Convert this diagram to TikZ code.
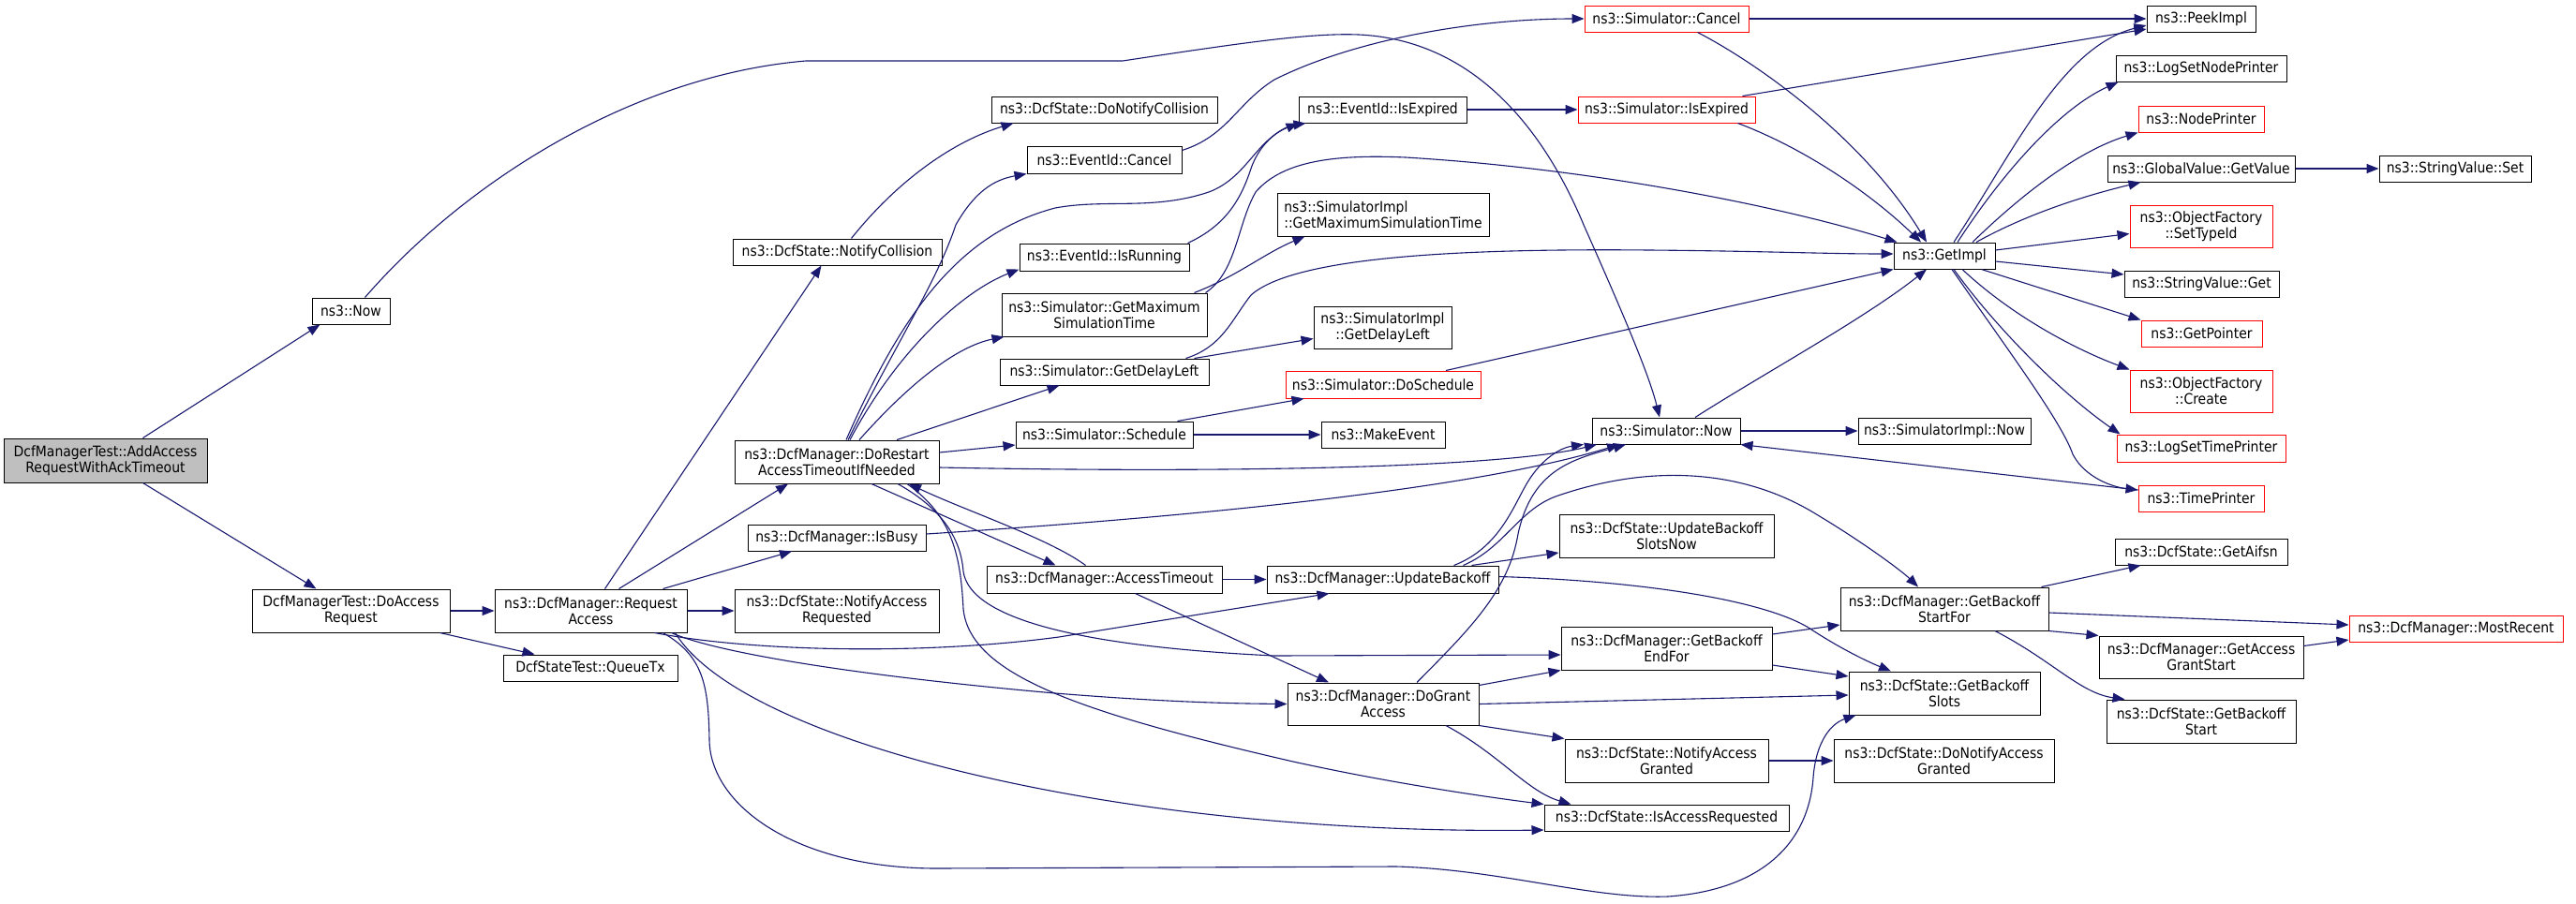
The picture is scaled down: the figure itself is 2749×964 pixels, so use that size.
\documentclass[tikz,border=0pt]{standalone}
\usepackage{fontspec}
\setmainfont{DejaVuSansCondensed}[Extension=.ttf]
\usepackage{tikz}
\usetikzlibrary{arrows.meta}
\definecolor{callblue}{RGB}{25,25,112}
\definecolor{rootgray}{RGB}{191,191,191}
\definecolor{cutred}{RGB}{255,0,0}
\tikzset{
  fn/.style={draw=black, fill=white, line width=1pt, inner sep=0pt, align=center, font=\fontsize{15.5}{17}\selectfont},
  fnred/.style={fn, draw=cutred},
  fnroot/.style={fn, fill=rootgray},
  call/.style={draw=callblue, line width=1.1pt, -{Triangle[length=13pt,width=10pt]}}
}
% box from its corners: [style]{name}{x1}{y1}{x2}{y2}{text}
\newcommand{\fnbox}[7][fn]{\node[#1, minimum width={(#5)-(#3)}, minimum height={(#6)-(#4)}] (#2) at ({((#3)+(#5))/2},{((#4)+(#6))/2}) {#7};}
\begin{document}
\begin{tikzpicture}[x=1pt,y=-1pt]
\path[fill=white] (0,0) rectangle (2749,964);
\useasboundingbox (0,0) rectangle (2749,964);
\fnbox[fnroot]{add}{4}{468}{221}{515}{DcfManagerTest::AddAccess\\RequestWithAckTimeout}
\fnbox{now}{333}{318}{416}{346}{ns3::Now}
\fnbox{doacc}{269}{629}{480}{675}{DcfManagerTest::DoAccess\\Request}
\fnbox{reqacc}{528}{629}{733}{675}{ns3::DcfManager::Request\\Access}
\fnbox{queue}{537}{699}{723}{727}{DcfStateTest::QueueTx}
\fnbox{notcol}{782}{255}{1005}{283}{ns3::DcfState::NotifyCollision}
\fnbox{dorestart}{784}{470}{1002}{516}{ns3::DcfManager::DoRestart\\AccessTimeoutIfNeeded}
\fnbox{isbusy}{798}{560}{988}{588}{ns3::DcfManager::IsBusy}
\fnbox{notreq}{784}{629}{1002}{675}{ns3::DcfState::NotifyAccess\\Requested}
\fnbox{donotcol}{1058}{103}{1299}{131}{ns3::DcfState::DoNotifyCollision}
\fnbox{evcancel}{1096}{156}{1261}{185}{ns3::EventId::Cancel}
\fnbox{evrun}{1088}{260}{1269}{289}{ns3::EventId::IsRunning}
\fnbox{getmax}{1069}{313}{1288}{359}{ns3::Simulator::GetMaximum\\SimulationTime}
\fnbox{delay}{1067}{383}{1290}{411}{ns3::Simulator::GetDelayLeft}
\fnbox{sched}{1084}{450}{1273}{478}{ns3::Simulator::Schedule}
\fnbox{acctime}{1053}{604}{1304}{633}{ns3::DcfManager::AccessTimeout}
\fnbox{evexp}{1386}{103}{1565}{131}{ns3::EventId::IsExpired}
\fnbox[fn,align=left]{implmax}{1363}{206}{1589}{252}{ns3::SimulatorImpl\\::GetMaximumSimulationTime}
\fnbox{impldelay}{1402}{327}{1549}{372}{ns3::SimulatorImpl\\::GetDelayLeft}
\fnbox[fnred]{dosched}{1372}{396}{1580}{425}{ns3::Simulator::DoSchedule}
\fnbox{mkevent}{1410}{450}{1542}{478}{ns3::MakeEvent}
\fnbox{upback}{1352}{604}{1599}{633}{ns3::DcfManager::UpdateBackoff}
\fnbox{dogrant}{1374}{729}{1578}{774}{ns3::DcfManager::DoGrant\\Access}
\fnbox[fnred]{simcancel}{1691}{6}{1866}{34}{ns3::Simulator::Cancel}
\fnbox[fnred]{simexp}{1684}{103}{1873}{131}{ns3::Simulator::IsExpired}
\fnbox{simnow}{1699}{446}{1857}{474}{ns3::Simulator::Now}
\fnbox{slotsnow}{1664}{549}{1893}{595}{ns3::DcfState::UpdateBackoff\\SlotsNow}
\fnbox{endfor}{1666}{669}{1891}{715}{ns3::DcfManager::GetBackoff\\EndFor}
\fnbox{notgrant}{1670}{789}{1887}{835}{ns3::DcfState::NotifyAccess\\Granted}
\fnbox{isreq}{1648}{859}{1909}{887}{ns3::DcfState::IsAccessRequested}
\fnbox{getimpl}{2021}{259}{2129}{287}{ns3::GetImpl}
\fnbox{implnow}{1983}{446}{2167}{474}{ns3::SimulatorImpl::Now}
\fnbox{startfor}{1964}{627}{2186}{673}{ns3::DcfManager::GetBackoff\\StartFor}
\fnbox{slots}{1973}{717}{2177}{763}{ns3::DcfState::GetBackoff\\Slots}
\fnbox{donotgrant}{1957}{789}{2192}{835}{ns3::DcfState::DoNotifyAccess\\Granted}
\fnbox{peek}{2291}{6}{2407}{34}{ns3::PeekImpl}
\fnbox{lognode}{2258}{59}{2440}{87}{ns3::LogSetNodePrinter}
\fnbox[fnred]{nodepr}{2282}{113}{2416}{141}{ns3::NodePrinter}
\fnbox{getval}{2249}{166}{2449}{194}{ns3::GlobalValue::GetValue}
\fnbox{strset}{2539}{166}{2701}{194}{ns3::StringValue::Set}
\fnbox[fnred]{settype}{2273}{219}{2425}{264}{ns3::ObjectFactory\\::SetTypeId}
\fnbox{strget}{2267}{289}{2432}{317}{ns3::StringValue::Get}
\fnbox[fnred]{getptr}{2285}{342}{2414}{370}{ns3::GetPointer}
\fnbox[fnred]{create}{2273}{395}{2425}{440}{ns3::ObjectFactory\\::Create}
\fnbox[fnred]{logtime}{2259}{464}{2439}{493}{ns3::LogSetTimePrinter}
\fnbox[fnred]{timepr}{2282}{518}{2416}{546}{ns3::TimePrinter}
\fnbox{aifsn}{2257}{575}{2441}{603}{ns3::DcfState::GetAifsn}
\fnbox[fnred]{mostrec}{2507}{657}{2735}{685}{ns3::DcfManager::MostRecent}
\fnbox{grantstart}{2240}{679}{2458}{724}{ns3::DcfManager::GetAccess\\GrantStart}
\fnbox{bkstart}{2248}{747}{2450}{793}{ns3::DcfState::GetBackoff\\Start}
% calls
\draw[call] ([xshift=40]add.north) -- ([xshift=-33]now.south);
\draw[call] ([xshift=40]add.south) -- ([xshift=-37]doacc.north);
\draw[call] ([xshift=15]now.north) .. controls (500,190) and (680,80) .. (860,65) -- (1198,65) .. controls (1330,45) and (1400,35) .. (1450,37) .. controls (1560,42) and (1640,120) .. (1690,240) .. controls (1730,330) and (1760,400) .. ([xshift=-7]simnow.north);
\draw[call] (doacc) -- (reqacc);
\draw[call] ([xshift=-11]doacc.south east) -- ([xshift=34]queue.north west);
\draw[call] ([xshift=15]reqacc.north) -- ([xshift=-17]notcol.south);
\draw[call] ([xshift=30]reqacc.north) -- ([xshift=-52]dorestart.south);
\draw[call] ([xshift=-26]reqacc.north east) -- ([xshift=-48]isbusy.south);
\draw[call] (reqacc) -- (notreq);
\draw[call] ([xshift=-35]reqacc.south east) .. controls (800,695) and (980,700) .. (1130,680) -- ([xshift=-57]upback.south);
\draw[call] ([xshift=-17]reqacc.south east) .. controls (760,695) and (900,720) .. (1126,740) .. controls (1250,750) and (1320,751) .. (dogrant.west);
\draw[call] ([xshift=-13]reqacc.south east) .. controls (760,740) and (900,800) .. (1100,840) .. controls (1300,880) and (1500,888) .. ([yshift=-13]isreq.west);
\draw[call] ([xshift=-26]reqacc.south east) .. controls (750,700) and (756,730) .. (757,790) .. controls (758,860) and (850,927) .. (1000,927) -- (1490,925) .. controls (1600,928) and (1700,960) .. (1780,957) .. controls (1880,950) and (1930,900) .. (1935,830) .. controls (1938,790) and (1955,772) .. ([xshift=8]slots.south west);
\draw[call] ([xshift=12]dorestart.north) .. controls (960,360) and (1000,300) .. (1020,240) .. controls (1040,205) and (1060,192) .. (evcancel.south west);
\draw[call] ([xshift=10]dorestart.north) .. controls (960,340) and (1020,250) .. (1126,222) .. controls (1180,212) and (1230,225) .. (1290,205) .. controls (1330,190) and (1340,150) .. (evexp.south west);
\draw[call] ([xshift=14]dorestart.north) .. controls (960,370) and (1030,310) .. ([yshift=2]evrun.south west);
\draw[call] ([xshift=24]dorestart.north) .. controls (970,410) and (1020,370) .. ([xshift=3]getmax.south west);
\draw[call] ([xshift=64]dorestart.north) -- ([xshift=-48]delay.south);
\draw[call] ([yshift=10]dorestart.east) -- ([yshift=-11]sched.west);
\draw[call] ([yshift=-6]dorestart.east) .. controls (1300,505) and (1600,500) .. ([xshift=-74]simnow.south);
\draw[call] ([xshift=37]dorestart.south) -- ([xshift=-52]acctime.north);
\draw[call] ([xshift=-20]acctime.north) .. controls (1120,575) and (1030,545) .. ([xshift=77]dorestart.south);
\draw[call] ([xshift=65]dorestart.south) .. controls (1000,540) and (1025,570) .. (1028,610) .. controls (1035,660) and (1150,690) .. (1360,700) -- ([yshift=-7]endfor.west);
\draw[call] ([xshift=75]dorestart.south) .. controls (1015,550) and (1025,590) .. (1028,650) .. controls (1035,720) and (1150,760) .. (1380,813) .. controls (1480,835) and (1580,850) .. (isreq.north west);
\draw[call] ([yshift=4]isbusy.east) .. controls (1300,550) and (1580,520) .. ([xshift=-50]simnow.south);
\draw[call] ([xshift=15]notcol.north) .. controls (960,190) and (1020,150) .. ([xshift=24]donotcol.south west);
\draw[call] ([yshift=10]evcancel.east) .. controls (1310,145) and (1320,110) .. (1360,85) .. controls (1450,40) and (1580,20) .. (simcancel.west);
\draw[call] ([xshift=-2]evrun.north east) .. controls (1310,240) and (1325,210) .. (1335,180) .. controls (1345,150) and (1370,135) .. ([xshift=8]evexp.south west);
\draw[call] (evexp) -- (simexp);
\draw[call] (simcancel) -- (peek);
\draw[call] ([xshift=33]simcancel.south) .. controls (1880,70) and (1990,150) .. ([xshift=-19]getimpl.north);
\draw[call] ([xshift=81]simexp.north) -- ([yshift=-11]peek.west);
\draw[call] ([xshift=76]simexp.south) .. controls (1930,160) and (2000,210) .. ([xshift=-25]getimpl.north);
\draw[call] ([xshift=-14]getmax.north east) .. controls (1320,295) and (1350,270) .. ([xshift=30]implmax.south west);
\draw[call] ([xshift=-2]getmax.north east) .. controls (1320,290) and (1320,240) .. (1340,205) .. controls (1370,170) and (1430,165) .. (1500,168) .. controls (1700,180) and (1900,220) .. ([xshift=4]getimpl.north west);
\draw[call] ([xshift=-16]delay.north east) -- ([yshift=-12]impldelay.west);
\draw[call] ([xshift=-25]delay.north east) .. controls (1305,370) and (1315,340) .. (1335,315) .. controls (1380,275) and (1550,265) .. (1760,267) .. controls (1880,268) and (1950,271) .. ([yshift=2]getimpl.west);
\draw[call] ([xshift=-17]sched.north east) -- ([xshift=20]dosched.south west);
\draw[call] (sched) -- (mkevent);
\draw[call] ([xshift=67]dosched.north) -- (getimpl.south west);
\draw[call] ([xshift=31]simnow.north) .. controls (1880,400) and (1990,340) .. ([xshift=-19]getimpl.south);
\draw[call] (simnow) -- (implnow);
\draw[call] ([yshift=9]timepr.west) -- (simnow.south east);
\draw[call] ([xshift=10]getimpl.north) .. controls (2150,160) and (2200,50) .. ([yshift=-7]peek.west);
\draw[call] ([xshift=14]getimpl.north) .. controls (2140,180) and (2200,115) .. ([xshift=3]lognode.south west);
\draw[call] ([xshift=30]getimpl.north) .. controls (2160,205) and (2220,160) .. (nodepr.south west);
\draw[call] ([xshift=34]getimpl.north) .. controls (2160,230) and (2220,210) .. ([xshift=36]getval.south west);
\draw[call] (getval) -- (strset);
\draw[call] ([yshift=6]getimpl.east) -- ([yshift=-8]settype.west);
\draw[call] ([yshift=-6]getimpl.east) -- ([yshift=10]strget.west);
\draw[call] ([xshift=-15]getimpl.south east) -- (getptr.north west);
\draw[call] ([xshift=19]getimpl.south) .. controls (2150,340) and (2220,375) .. (create.north west);
\draw[call] ([xshift=10]getimpl.south) .. controls (2130,350) and (2200,420) .. ([xshift=4]logtime.north west);
\draw[call] ([xshift=8]getimpl.south) .. controls (2140,370) and (2200,450) .. (2212,485) .. controls (2225,510) and (2255,520) .. ([yshift=9]timepr.west);
\draw[call] ([xshift=76]upback.north) .. controls (1600,585) and (1615,540) .. (1630,515) .. controls (1645,490) and (1665,478) .. ([xshift=-88]simnow.south);
\draw[call] ([xshift=86]upback.north) .. controls (1605,585) and (1620,545) .. (1660,530) .. controls (1760,495) and (1860,500) .. (1940,550) .. controls (1990,580) and (2030,610) .. ([xshift=-28]startfor.north);
\draw[call] ([xshift=95]upback.north) -- ([yshift=-18]slotsnow.west);
\draw[call] ([yshift=3]upback.east) .. controls (1750,620) and (1880,640) .. (1930,670) .. controls (1960,690) and (1990,705) .. ([xshift=-57]slots.north);
\draw[call] (acctime) -- (upback);
\draw[call] ([xshift=33]acctime.south) -- ([xshift=-58]dogrant.north);
\draw[call] ([xshift=36]dogrant.north) .. controls (1570,670) and (1610,630) .. (1620,570) .. controls (1635,500) and (1680,490) .. ([xshift=-43]simnow.south);
\draw[call] ([yshift=-3]dogrant.north east) -- (endfor.south west);
\draw[call] (dogrant.east) -- ([yshift=-2]slots.west);
\draw[call] (dogrant.south east) -- (notgrant.north west);
\draw[call] ([xshift=67]dogrant.south) .. controls (1600,805) and (1630,845) .. ([xshift=29]isreq.north west);
\draw[call] ([yshift=15]endfor.east) -- ([yshift=-17]startfor.west);
\draw[call] ([yshift=-18]endfor.east) -- ([yshift=18]slots.west);
\draw[call] (notgrant) -- (donotgrant);
\draw[call] ([xshift=-8]startfor.north east) -- ([xshift=28]aifsn.south west);
\draw[call] ([yshift=-4]startfor.east) -- ([yshift=4]mostrec.west);
\draw[call] (startfor.south east) -- (grantstart.north west);
\draw[call] ([xshift=54]startfor.south) .. controls (2190,705) and (2220,740) .. ([xshift=20]bkstart.north west);
\draw[call] ([yshift=12]grantstart.east) -- ([yshift=-12]mostrec.west);
\end{tikzpicture}
\end{document}
